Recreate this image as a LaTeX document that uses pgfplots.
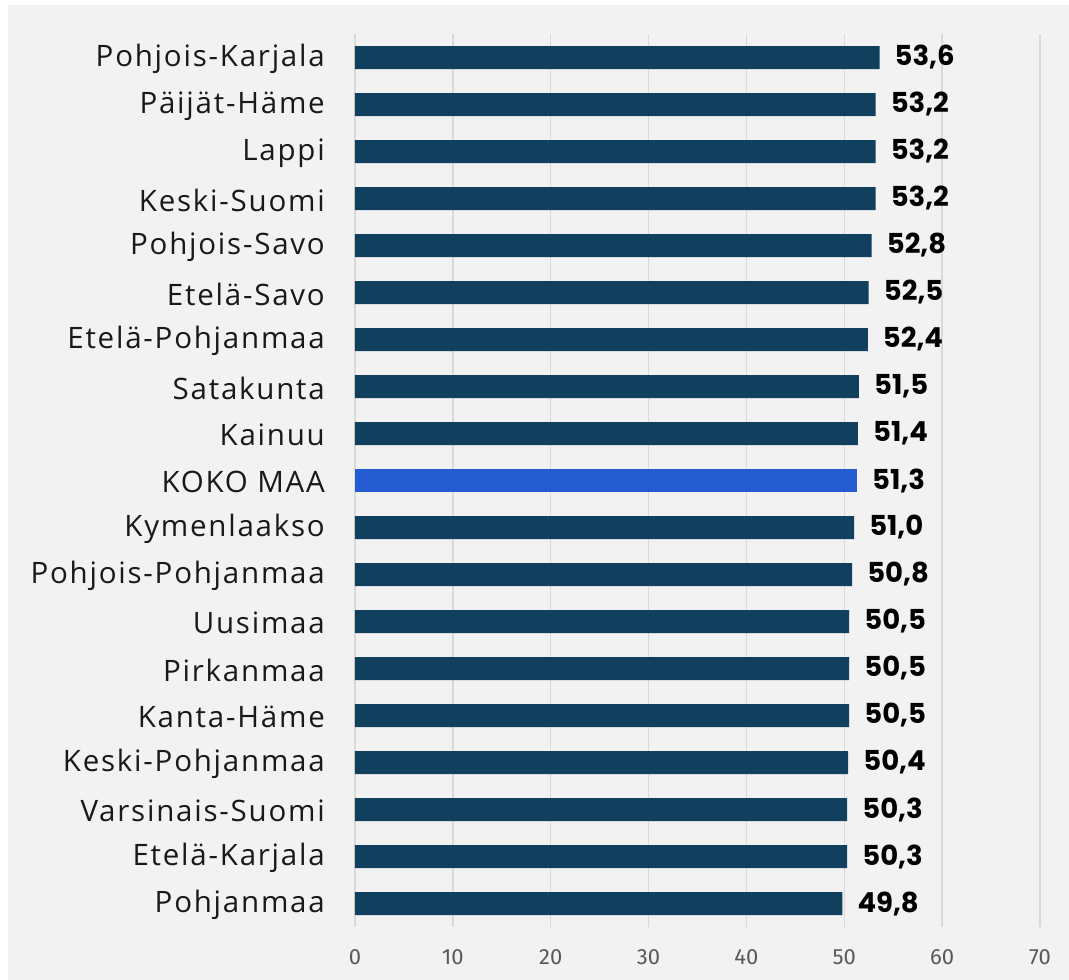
\documentclass[border=0pt]{standalone}
\usepackage{pgfplots}
\pgfplotsset{compat=1.18}
\usepackage{fontspec}
\setmainfont{Open Sans}
\newfontfamily\labfont[LetterSpace=6]{Open Sans}
\newfontfamily\tickfont{Fira Sans}
\newfontfamily\valfont{Poppins}
\definecolor{bg}{HTML}{F2F2F2}
\definecolor{bardark}{HTML}{11405E}
\definecolor{barbright}{HTML}{245BD1}
\definecolor{gridc}{HTML}{D9D9D9}
\definecolor{tickc}{HTML}{595959}
\pgfplotstableread{
idx val
0 53.6
1 53.2
2 53.2
3 53.2
4 52.8
5 52.5
6 52.4
7 51.5
8 51.4
10 51.0
11 50.8
12 50.5
13 50.5
14 50.5
15 50.4
16 50.3
17 50.3
18 49.8
}\regular
\pgfplotstableread{
idx val
9 51.3
}\koko
\begin{document}
\begin{tikzpicture}[x=1pt,y=1pt]
\fill[white] (0,0) rectangle (1069,980);
\fill[bg] (8,0) rectangle (1069,975);
\begin{axis}[
  at={(355pt,53pt)}, anchor=south west,
  scale only axis, width=685pt, height=893pt,
  xbar, bar width=23pt, bar shift=0pt,
  xmin=0, xmax=70, ymin=-0.5, ymax=18.5, y dir=reverse,
  xtick={0,10,...,70},
  ytick={0,...,18},
  yticklabels={Pohjois-Karjala,Päijät-Häme,Lappi,Keski-Suomi,Pohjois-Savo,Etelä-Savo,Etelä-Pohjanmaa,Satakunta,Kainuu,KOKO MAA,Kymenlaakso,Pohjois-Pohjanmaa,Uusimaa,Pirkanmaa,Kanta-Häme,Keski-Pohjanmaa,Varsinais-Suomi,Etelä-Karjala,Pohjanmaa},
  major tick length=0pt,
  axis line style={draw=none},
  xmajorgrids, grid style={gridc, line width=1.5pt},
  /pgf/number format/assume math mode=true,
  x tick label style={font=\tickfont\fontsize{22}{24}\selectfont, text=tickc, inner sep=0pt, anchor=center, yshift=-30pt},
  y tick label style={font=\labfont\fontsize{29.5}{34}\selectfont, text=black!90, inner sep=0pt, anchor=east, xshift=-30pt, yshift=-1.5pt},
  point meta=x,
  nodes near coords={\pgfmathprintnumber[fixed,fixed zerofill,precision=1,use comma]{\pgfplotspointmeta}},
  nodes near coords style={font=\valfont\bfseries\fontsize{27.5}{30}\selectfont, text=black, anchor=west, inner sep=0pt, xshift=15pt},
]
\addplot[fill=bardark, draw=none] table[x=val,y=idx] {\regular};
\addplot[fill=barbright, draw=none] table[x=val,y=idx] {\koko};
\end{axis}
\end{tikzpicture}
\end{document}
